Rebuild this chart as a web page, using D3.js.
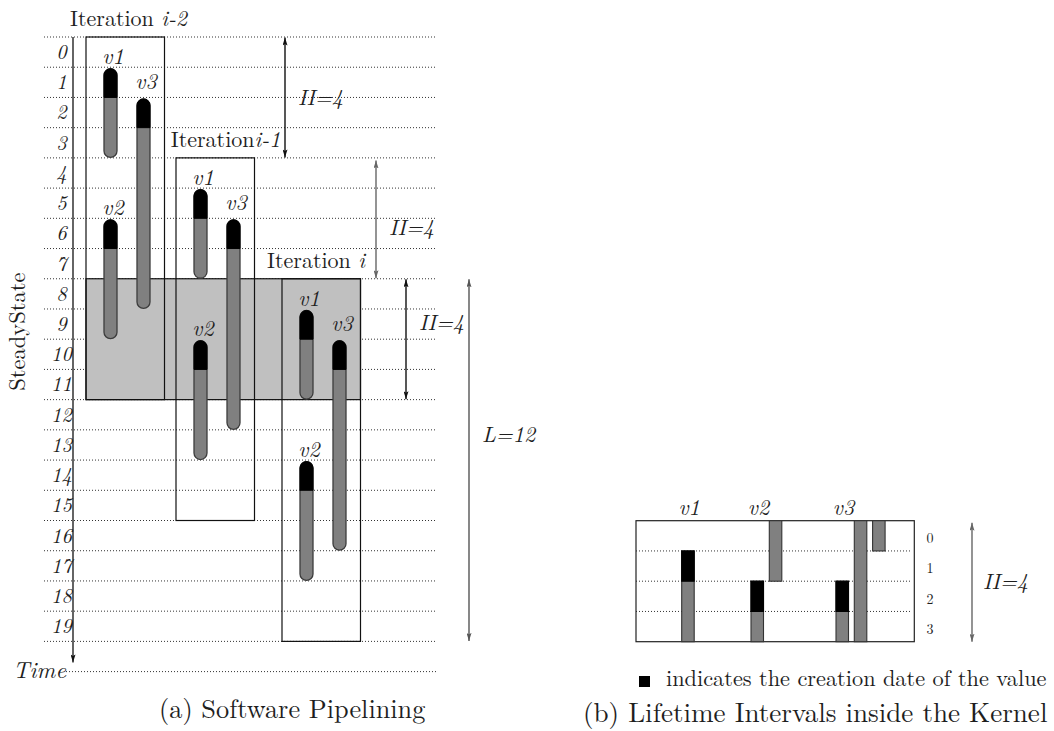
<!DOCTYPE html>
<html>
<head>
<meta charset="utf-8">
<script src="https://cdn.jsdelivr.net/npm/d3@7"></script>
<style>
  body { margin: 0; background: #fff; }
</style>
</head>
<body>
<svg id="fig" width="1054" height="731"></svg>
<script>
// ---- data ----
const timeRows   = [0, 1, 2, 3, 4, 5, 6, 7, 8, 9, 10, 11, 12, 13, 14, 15, 16, 17, 18, 19];
const iterNames  = ["i-2", "i-1", "i"];
const iterSep    = [" ", "", " "];          // the original has no space in "Iterationi-1"
const iterStart  = [0, 4, 8];
const valueNames = ["v1", "v2", "v3"];
const valueStart = [1, 6, 2];               // creation date inside one iteration
const valueEnd   = [4, 10, 9];              // last use
const II = 4;
const L = 12;
const steadyState = [8, 12];
const arrowFrom  = [0, 4, 8, 8];
const arrowTo    = [4, 8, 12, 20];
const arrowLabel = ["II=4", "II=4", "II=4", "L=12"];
const kernelRows = [0, 1, 2, 3];

// ---- layout ----
const FONT = "'Latin Modern Roman', 'CMU Serif', 'Liberation Serif', serif";
const svg = d3.select("#fig")
  .attr("font-family", FONT)
  .style("font-family", FONT)
  .attr("fill", "#1e1e1e");

const y = d3.scaleLinear().domain([0, 21]).range([37, 671.6]);
const xBox = d3.scaleOrdinal().domain(iterNames).range([86, 176, 282]);
const boxW = 78.5;
const xVal = d3.scaleOrdinal().domain(valueNames).range([24.5, 24.5, 57.5]);
const labelLift = {v1: 3, v2: 3, v3: 8};
const iterLabelDx = [-16, -5.3, -15];
const capW = 13;

const arrowX = [285, 376, 406, 469];
const arrowTextK = [2.0, 6.3, 9.45, 13.15];
const arrowColor = ["#111", "#666", "#111", "#555"];
const gridRight = 437;

const yK = d3.scaleLinear().domain([0, II]).range([520.7, 641.7]);
const xK = d3.scaleOrdinal().domain(valueNames).range([681.7, 751, 836]);
const kBoxX = [636, 914.3];
const segStep = 18.3, segW = 12.5;

// arrow heads
const defs = svg.append("defs");
[["ah-111", "#111"], ["ah-555", "#555"], ["ah-666", "#666"]].forEach(([id, c]) => {
  defs.append("marker")
    .attr("id", id)
    .attr("viewBox", "0 0 8 5")
    .attr("refX", 8).attr("refY", 2.5)
    .attr("markerWidth", 8).attr("markerHeight", 5)
    .attr("markerUnits", "userSpaceOnUse")
    .attr("orient", "auto-start-reverse")
    .append("path")
    .attr("d", "M0,0 L8,2.5 L0,5 L1.5,2.5 Z")
    .attr("fill", c);
});
const mk = c => "url(#ah-" + c.slice(1) + ")";

// dotted time lines
const grid = svg.append("g")
  .attr("stroke", "#333")
  .attr("stroke-width", 1)
  .attr("stroke-dasharray", "1,2");
grid.selectAll("line.row")
  .data(timeRows.concat([timeRows.length]))
  .enter().append("line")
  .attr("class", "row")
  .attr("x1", 44).attr("x2", gridRight)
  .attr("y1", d => y(d)).attr("y2", d => y(d));
grid.append("line")
  .attr("x1", 66).attr("x2", gridRight)
  .attr("y1", y(21)).attr("y2", y(21));

// row numbers
svg.append("g").selectAll("text")
  .data(timeRows)
  .enter().append("text")
  .attr("font-style", "italic")
  .attr("x", 61.5)
  .attr("y", d => y(d) + 22)
  .attr("text-anchor", "middle")
  .attr("font-size", 20.5)
  .text(d => d);

// steady state band
svg.append("rect")
  .attr("x", xBox("i-2"))
  .attr("y", y(steadyState[0]))
  .attr("width", xBox("i") + boxW - xBox("i-2"))
  .attr("height", y(steadyState[1]) - y(steadyState[0]))
  .attr("fill", "#c0c0c0")
  .attr("stroke", "#111")
  .attr("stroke-width", 1.2);

svg.append("text")
  .attr("transform", "translate(25," + y(9.75) + ") rotate(-90)")
  .attr("text-anchor", "middle")
  .attr("font-size", 22.5)
  .text("SteadyState");

// iteration boxes
const iters = iterNames.map((n, i) => ({name: n, start: iterStart[i], sep: iterSep[i], i}));
svg.append("g").selectAll("rect")
  .data(iters)
  .enter().append("rect")
  .attr("x", d => xBox(d.name))
  .attr("y", d => y(d.start))
  .attr("width", boxW)
  .attr("height", d => y(d.start + L) - y(d.start))
  .attr("fill", "none")
  .attr("stroke", "#111")
  .attr("stroke-width", 1.2);

const iterLabels = svg.append("g").selectAll("text")
  .data(iters)
  .enter().append("text")
  .attr("x", d => xBox(d.name) + iterLabelDx[d.i])
  .attr("y", d => y(d.start) - 11)
  .attr("font-size", 22)
  .attr("xml:space", "preserve")
  .style("white-space", "pre");
iterLabels.append("tspan").text(d => "Iteration" + d.sep);
iterLabels.append("tspan").attr("font-style", "italic").text(d => d.name);

// lifetime capsules
const caps = [];
iters.forEach(it => valueNames.forEach((v, j) => caps.push({
  v, cx: xBox(it.name) + xVal(v),
  top: y(it.start + valueStart[j]) + 1.5,
  born: y(it.start + valueStart[j] + 1),
  bottom: y(it.start + valueEnd[j]) - 0.5
})));
const capG = svg.append("g");
const r = capW / 2;
capG.selectAll("rect")
  .data(caps)
  .enter().append("rect")
  .attr("x", d => d.cx - r)
  .attr("y", d => d.top)
  .attr("width", capW)
  .attr("height", d => d.bottom - d.top)
  .attr("rx", r)
  .attr("fill", "#808080")
  .attr("stroke", "#3c3c3c")
  .attr("stroke-width", 1.3);
capG.selectAll("path")
  .data(caps)
  .enter().append("path")
  .attr("d", d => "M" + (d.cx - r) + "," + d.born +
    " L" + (d.cx - r) + "," + (d.top + r) +
    " A" + r + "," + r + " 0 0 1 " + (d.cx + r) + "," + (d.top + r) +
    " L" + (d.cx + r) + "," + d.born + " Z")
  .attr("fill", "#000")
  .attr("stroke", "#000")
  .attr("stroke-width", 1);
capG.selectAll("text")
  .data(caps)
  .enter().append("text")
  .attr("font-style", "italic")
  .attr("x", d => d.cx + 2.5)
  .attr("y", d => d.top - 1.5 - labelLift[d.v])
  .attr("text-anchor", "middle")
  .attr("font-size", 22)
  .text(d => d.v);

// time axis
svg.append("line")
  .attr("x1", 73).attr("x2", 73)
  .attr("y1", y(0)).attr("y2", y(20) + 21)
  .attr("stroke", "#111").attr("stroke-width", 1.3)
  .attr("marker-end", mk("#111"));
svg.append("text")
  .attr("font-style", "italic")
  .attr("x", 66).attr("y", y(21) + 6.5)
  .attr("text-anchor", "end")
  .attr("font-size", 23)
  .text("Time");

// II / L arrows
const arrows = arrowLabel.map((t, i) => ({t, i, a: arrowFrom[i], b: arrowTo[i]}));
svg.append("g").selectAll("line")
  .data(arrows)
  .enter().append("line")
  .attr("x1", d => arrowX[d.i]).attr("x2", d => arrowX[d.i])
  .attr("y1", d => y(d.a) + (d.i === 1 ? 2.5 : 0.5))
  .attr("y2", d => y(d.b) - 0.5)
  .attr("stroke", d => arrowColor[d.i])
  .attr("stroke-width", 1.4)
  .attr("marker-start", d => mk(arrowColor[d.i]))
  .attr("marker-end", d => mk(arrowColor[d.i]));
svg.append("g").selectAll("text")
  .data(arrows)
  .enter().append("text")
  .attr("font-style", "italic")
  .attr("x", d => arrowX[d.i] + 13)
  .attr("y", d => y(arrowTextK[d.i]) + 7.5)
  .attr("font-size", 22)
  .text(d => d.t);

// ---- kernel (b) ----
const kernelSegs = [];
valueNames.forEach((v, i) => {
  let pos = valueStart[i] % II, left = valueEnd[i] - valueStart[i], j = 0;
  while (left > 0) {
    const len = Math.min(II - pos, left);
    kernelSegs.push({v, j, from: pos, to: pos + len});
    left -= len; pos = 0; j++;
  }
});

svg.append("g")
  .attr("stroke", "#333").attr("stroke-dasharray", "1,2")
  .selectAll("line")
  .data(kernelRows.slice(1))
  .enter().append("line")
  .attr("x1", kBoxX[0]).attr("x2", 910)
  .attr("y1", d => yK(d)).attr("y2", d => yK(d));

svg.append("rect")
  .attr("x", kBoxX[0]).attr("y", yK(0))
  .attr("width", kBoxX[1] - kBoxX[0])
  .attr("height", yK(II) - yK(0))
  .attr("fill", "none")
  .attr("stroke", "#222").attr("stroke-width", 1.2);

const segG = svg.append("g");
segG.selectAll("rect.seg")
  .data(kernelSegs)
  .enter().append("rect")
  .attr("class", "seg")
  .attr("x", d => xK(d.v) + d.j * segStep)
  .attr("y", d => yK(d.from))
  .attr("width", segW)
  .attr("height", d => yK(d.to) - yK(d.from))
  .attr("fill", "#808080")
  .attr("stroke", "#333").attr("stroke-width", 1.1);
segG.selectAll("rect.born")
  .data(kernelSegs.filter(d => d.j === 0))
  .enter().append("rect")
  .attr("class", "born")
  .attr("x", d => xK(d.v))
  .attr("y", d => yK(d.from))
  .attr("width", segW)
  .attr("height", d => yK(d.from + 1) - yK(d.from))
  .attr("fill", "#000")
  .attr("stroke", "#000").attr("stroke-width", 1.1);

svg.append("g").selectAll("text")
  .data(valueNames)
  .enter().append("text")
  .attr("font-style", "italic")
  .attr("x", d => xK(d) + 7.5)
  .attr("y", yK(0) - 6)
  .attr("text-anchor", "middle")
  .attr("font-size", 22)
  .text(d => d);

svg.append("g").selectAll("text")
  .data(kernelRows)
  .enter().append("text")
  .attr("x", 930)
  .attr("y", d => yK(d) + 22.5)
  .attr("text-anchor", "middle")
  .attr("font-size", 14)
  .text(d => d);

svg.append("line")
  .attr("x1", 972).attr("x2", 972)
  .attr("y1", yK(0) + 2).attr("y2", yK(II))
  .attr("stroke", "#666").attr("stroke-width", 1.4)
  .attr("marker-start", mk("#666"))
  .attr("marker-end", mk("#666"));
svg.append("text")
  .attr("font-style", "italic")
  .attr("x", 983).attr("y", yK(2) + 8)
  .attr("font-size", 22)
  .text("II=" + II);

// legend + captions
svg.append("rect")
  .attr("x", 639).attr("y", 676)
  .attr("width", 11).attr("height", 11)
  .attr("fill", "#000");
svg.append("text")
  .attr("x", 666).attr("y", 686)
  .attr("font-size", 22.3)
  .text("indicates the creation date of the value");

svg.append("text")
  .attr("x", 159).attr("y", 718)
  .attr("font-size", 26.3)
  .text("(a) Software Pipelining");
svg.append("text")
  .attr("x", 583).attr("y", 722)
  .attr("font-size", 27.1)
  .text("(b) Lifetime Intervals inside the Kernel");
</script>
</body>
</html>
